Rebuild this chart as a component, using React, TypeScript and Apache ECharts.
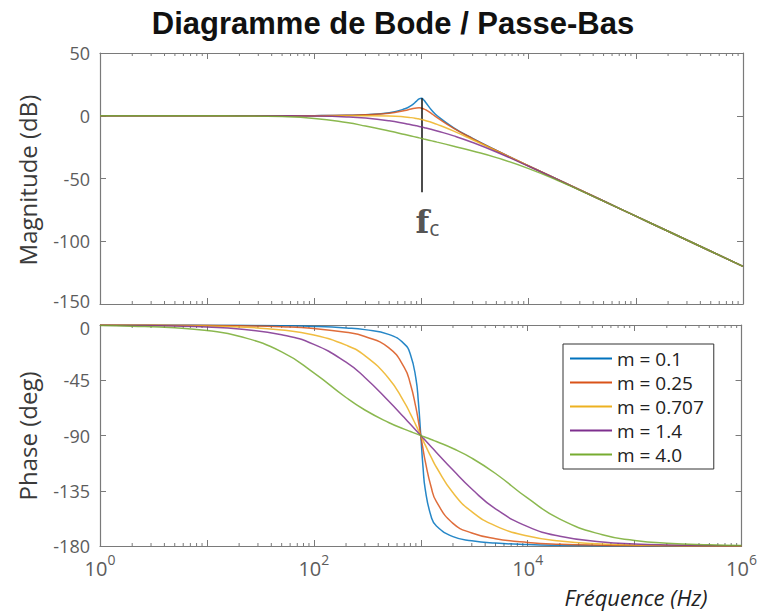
import React, { useEffect, useRef } from 'react';
import * as echarts from 'echarts';

// Frequencies (Hz) at which the curves were read
const FREQ_HZ = [1, 2, 5, 10, 20, 50, 100, 200, 300, 500, 700, 800, 900, 950, 1000, 1050, 1100, 1250, 1400, 2000, 3000, 5000, 10000, 20000, 50000, 100000, 200000, 500000, 1000000];

const SERIES_NAMES = ['m = 0.1', 'm = 0.25', 'm = 0.707', 'm = 1.4', 'm = 4.0'];
const SERIES_COLORS = ['#0072BD', '#D95319', '#EDB120', '#7E2F8E', '#77AC30'];

// Magnitude (dB)
const MAG_M01 = [0, 0, 0, 0, 0, 0.02, 0.09, 0.35, 0.8, 2.42, 5.53, 8.09, 11.64, 13.41, 13.98, 12.63, 10.34, 4.21, 0, -9.62, -18.09, -27.61, -39.92, -52.02, -67.96, -80, -92.04, -107.96, -120];
const MAG_M025 = [0, 0, 0, 0, 0, 0.02, 0.08, 0.31, 0.7, 2.04, 4.17, 5.38, 6.22, 6.29, 6.02, 5.43, 4.6, 1.51, -1.5, -10, -18.21, -27.65, -39.92, -52.02, -67.96, -80, -92.04, -107.96, -120];
const MAG_M0707 = [0, 0, 0, 0, 0, 0, 0, -0.01, -0.04, -0.26, -0.93, -1.49, -2.19, -2.59, -3.01, -3.45, -3.92, -5.37, -6.85, -12.3, -19.14, -27.97, -40, -52.04, -67.96, -80, -92.04, -107.96, -120];
const MAG_M14 = [0, 0, 0, 0, -0.01, -0.06, -0.25, -0.92, -1.86, -4.02, -6.13, -7.12, -8.05, -8.5, -8.94, -9.37, -9.79, -10.99, -12.12, -16.06, -21.29, -28.88, -40.25, -52.1, -67.97, -80, -92.04, -107.96, -120];
const MAG_M40 = [0, 0, -0.01, -0.03, -0.11, -0.63, -2.1, -5.42, -8.19, -12.19, -15, -16.14, -17.15, -17.62, -18.06, -18.49, -18.89, -20.01, -21.02, -24.23, -28.06, -33.38, -42.1, -52.67, -68.07, -80.03, -92.05, -107.96, -120];

// Phase (deg)
const PH_M01 = [-0.01, -0.02, -0.06, -0.11, -0.23, -0.57, -1.16, -2.39, -3.77, -7.6, -15.35, -23.96, -43.45, -62.83, -90, -116.02, -133.67, -156.04, -163.74, -172.41, -175.71, -177.61, -178.84, -179.43, -179.77, -179.89, -179.94, -179.98, -179.99];
const PH_M025 = [-0.03, -0.06, -0.14, -0.29, -0.57, -1.44, -2.89, -5.95, -9.36, -18.43, -34.46, -48.01, -67.11, -78.4, -90, -101.05, -110.9, -131.99, -143.9, -161.57, -169.38, -174.05, -177.11, -178.56, -179.43, -179.71, -179.86, -179.94, -179.97];
const PH_M0707 = [-0.08, -0.16, -0.41, -0.81, -1.62, -4.05, -8.13, -16.42, -25, -43.31, -62.74, -72.35, -81.51, -85.85, -90, -93.95, -97.69, -107.65, -115.87, -136.69, -152.07, -163.59, -171.87, -175.95, -178.38, -179.19, -179.59, -179.84, -179.92];
const PH_M14 = [-0.16, -0.32, -0.8, -1.6, -3.21, -7.99, -15.79, -30.26, -42.71, -61.82, -75.41, -80.87, -85.69, -87.9, -90, -92, -93.9, -99.13, -103.76, -118.18, -133.6, -149.74, -164.21, -172.01, -176.79, -178.4, -179.2, -179.68, -179.84];
const PH_M40 = [-0.46, -0.92, -2.29, -4.57, -9.09, -21.85, -38.94, -59.04, -69.23, -79.38, -84.8, -86.78, -88.49, -89.27, -90, -90.7, -91.37, -93.22, -94.9, -100.62, -108.43, -120.96, -141.06, -158.15, -170.91, -175.43, -177.71, -179.08, -179.54];

const MAG_SERIES = [MAG_M01, MAG_M025, MAG_M0707, MAG_M14, MAG_M40];
const PH_SERIES = [PH_M01, PH_M025, PH_M0707, PH_M14, PH_M40];

// Axis ranges
const X_MIN = 1;
const X_MAX = 1000000;
const MAG_MIN = -150;
const MAG_MAX = 50;
const MAG_STEP = 50;
const PH_MIN = -180;
const PH_MAX = 0;
const PH_STEP = 45;

// Minor log ticks
const MINOR_TICKS_HZ = [
  2, 3, 4, 5, 6, 7, 8, 9,
  20, 30, 40, 50, 60, 70, 80, 90,
  200, 300, 400, 500, 600, 700, 800, 900,
  2000, 3000, 4000, 5000, 6000, 7000, 8000, 9000,
  20000, 30000, 40000, 50000, 60000, 70000, 80000, 90000,
  200000, 300000, 400000, 500000, 600000, 700000, 800000, 900000,
];

// f_c annotation
const FC_HZ = 1000;
const FC_TOP_DB = 14;
const FC_BOTTOM_DB = -61;

const FONT = '"Open Sans", "DejaVu Sans", sans-serif';
const AXIS_COLOR = '#7a7a7a';
const LABEL_COLOR = '#5c5c5c';

export default function App() {
  const ref = useRef<HTMLDivElement>(null);

  useEffect(() => {
    document.body.style.margin = '0';
    const chart = echarts.init(ref.current as HTMLDivElement, null, { renderer: 'svg' });

    const logAxis = (gridIndex: number, position: string, showLabel: boolean) => ({
      type: 'log',
      logBase: 10,
      gridIndex,
      position,
      min: X_MIN,
      max: X_MAX,
      splitNumber: 6,
      axisLine: { show: true, onZero: false, lineStyle: { color: AXIS_COLOR, width: 1.2 } },
      axisTick: { show: true, inside: true, length: 6, lineStyle: { color: AXIS_COLOR, width: 1 } },
      axisLabel: showLabel
        ? {
            show: true,
            margin: 12,
            formatter: (v: number) => {
              const e = Math.round(Math.log10(v));
              return e % 2 === 0 ? `{b|10}{s|${e}}` : '';
            },
            rich: {
              b: { fontSize: 20, fontFamily: FONT, color: LABEL_COLOR, lineHeight: 20, verticalAlign: 'bottom' },
              s: { fontSize: 14, fontFamily: FONT, color: LABEL_COLOR, lineHeight: 14, verticalAlign: 'bottom', padding: [0, 0, 12, 0] },
            },
          }
        : { show: false },
      splitLine: { show: false },
    });

    const tickText = { fontSize: 18, lineHeight: 14, fontFamily: FONT, color: LABEL_COLOR };

    const valAxis = (
      gridIndex: number,
      position: string,
      min: number,
      max: number,
      interval: number,
      showLabel: boolean,
      shiftUpValue: number | null,
      shiftDownValue: number | null,
    ) => ({
      type: 'value',
      gridIndex,
      position,
      min,
      max,
      interval,
      axisLine: { show: true, onZero: false, lineStyle: { color: AXIS_COLOR, width: 1.2 } },
      axisTick: { show: true, inside: true, length: 6, lineStyle: { color: AXIS_COLOR, width: 1 } },
      axisLabel: showLabel
        ? {
            show: true,
            margin: 10,
            ...tickText,
            formatter: (v: number) => {
              if (v === shiftUpValue) return `{up|${v}}`;
              if (v === shiftDownValue) return `{dn|${v}}`;
              return `${v}`;
            },
            rich: {
              up: { ...tickText, padding: [0, 0, 6, 0] },
              dn: { ...tickText, padding: [6, 0, 0, 0] },
            },
          }
        : { show: false },
      splitLine: { show: false },
    });

    const minorTickSeries = (xAxisIndex: number, yAxisIndex: number, yMin: number, yMax: number) => ({
      type: 'custom',
      xAxisIndex,
      yAxisIndex,
      silent: true,
      z: 1,
      data: MINOR_TICKS_HZ.map((f) => [f, yMin]),
      renderItem: (_params: any, api: any) => {
        const f = api.value(0);
        const b = api.coord([f, yMin]);
        const t = api.coord([f, yMax]);
        const st = { stroke: AXIS_COLOR, lineWidth: 1 };
        return {
          type: 'group',
          children: [
            { type: 'line', shape: { x1: b[0], y1: b[1], x2: b[0], y2: b[1] - 3 }, style: st },
            { type: 'line', shape: { x1: t[0], y1: t[1], x2: t[0], y2: t[1] + 3 }, style: st },
          ],
        };
      },
    });

    const lineCommon = (i: number) => ({
      symbol: 'none',
      smooth: 0.5,
      z: 3 + i,
      lineStyle: { width: 1.5, color: SERIES_COLORS[i], opacity: 0.85 },
      itemStyle: { color: SERIES_COLORS[i] },
    });

    const magSeries = SERIES_NAMES.map((name, i) => ({
      type: 'line',
      name,
      xAxisIndex: 0,
      yAxisIndex: 0,
      ...lineCommon(i),
      data: FREQ_HZ.map((f, k) => [f, MAG_SERIES[i][k]]),
      ...(i === 0
        ? {
            markLine: {
              silent: true,
              symbol: ['none', 'none'],
              lineStyle: { color: '#111', width: 1.5, type: 'solid', opacity: 1 },
              label: {
                show: true,
                position: 'end',
                distance: 12,
                offset: [6, 2],
                formatter: '{f|f}{c|c}',
                rich: {
                  f: { fontFamily: '"DejaVu Serif", serif', fontWeight: 'bold', fontSize: 32, color: '#555', lineHeight: 32, verticalAlign: 'top' },
                  c: { fontFamily: FONT, fontSize: 21, color: '#555', lineHeight: 21, verticalAlign: 'bottom', padding: [22, 0, 0, 0] },
                },
              },
              data: [[{ coord: [FC_HZ, FC_TOP_DB] }, { coord: [FC_HZ, FC_BOTTOM_DB] }]],
            },
          }
        : {}),
    }));

    const phSeries = SERIES_NAMES.map((name, i) => ({
      type: 'line',
      name,
      xAxisIndex: 2,
      yAxisIndex: 2,
      ...lineCommon(i),
      data: FREQ_HZ.map((f, k) => [f, PH_SERIES[i][k]]),
    }));

    const option: any = {
      animation: false,
      backgroundColor: '#fff',
      grid: [
        { left: 100, top: 53, width: 643, height: 251 },
        { left: 100, top: 325, width: 643, height: 221 },
      ],
      xAxis: [
        logAxis(0, 'bottom', false),
        logAxis(0, 'top', false),
        logAxis(1, 'bottom', true),
        logAxis(1, 'top', false),
      ],
      yAxis: [
        valAxis(0, 'left', MAG_MIN, MAG_MAX, MAG_STEP, true, MAG_MIN, null),
        valAxis(0, 'right', MAG_MIN, MAG_MAX, MAG_STEP, false, null, null),
        valAxis(1, 'left', PH_MIN, PH_MAX, PH_STEP, true, null, PH_MAX),
        valAxis(1, 'right', PH_MIN, PH_MAX, PH_STEP, false, null, null),
      ],
      legend: {
        data: SERIES_NAMES,
        orient: 'vertical',
        left: 563,
        top: 344,
        icon: 'rect',
        itemWidth: 42,
        itemHeight: 2,
        itemGap: 5,
        padding: [5, 10, 5, 7],
        backgroundColor: '#fff',
        borderColor: '#333',
        borderWidth: 1,
        borderRadius: 0,
        textStyle: { fontSize: 19, lineHeight: 19, fontFamily: FONT, color: '#222' },
      },
      graphic: [
        {
          type: 'text',
          x: 393,
          y: 23,
          style: {
            text: 'Diagramme de Bode / Passe-Bas',
            font: 'bold 31px "Liberation Sans", Arial, sans-serif',
            fill: '#111',
            textAlign: 'center',
            textVerticalAlign: 'middle',
          },
        },
        {
          type: 'text',
          x: 27,
          y: 180,
          rotation: Math.PI / 2,
          style: {
            text: 'Magnitude (dB)',
            font: `24px ${FONT}`,
            fill: '#3a3a3a',
            textAlign: 'center',
            textVerticalAlign: 'middle',
          },
        },
        {
          type: 'text',
          x: 27,
          y: 436,
          rotation: Math.PI / 2,
          style: {
            text: 'Phase (deg)',
            font: `24px ${FONT}`,
            fill: '#3a3a3a',
            textAlign: 'center',
            textVerticalAlign: 'middle',
          },
        },
        {
          type: 'text',
          x: 636,
          y: 597,
          style: {
            text: 'Fréquence (Hz)',
            font: `italic 22px ${FONT}`,
            fill: '#222',
            textAlign: 'center',
            textVerticalAlign: 'middle',
          },
        },
      ],
      series: [
        minorTickSeries(0, 0, MAG_MIN, MAG_MAX),
        minorTickSeries(2, 2, PH_MIN, PH_MAX),
        ...magSeries,
        ...phSeries,
      ],
    };

    chart.setOption(option);
    return () => chart.dispose();
  }, []);

  return <div ref={ref} style={{ width: 760, height: 613 }} />;
}
